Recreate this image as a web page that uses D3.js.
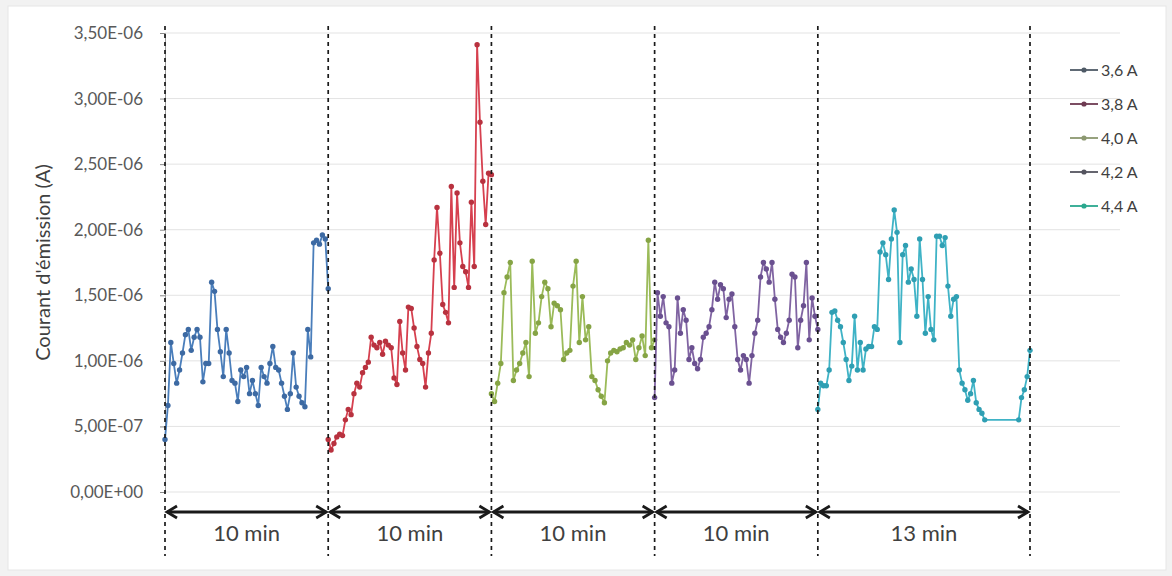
<!DOCTYPE html>
<html>
<head>
<meta charset="utf-8">
<script src="https://cdn.jsdelivr.net/npm/d3@7/dist/d3.min.js"></script>
<style>
  html, body { margin: 0; padding: 0; background: #ffffff; }
  svg { display: block; }
  text { font-family: Lato, "Open Sans", "Noto Sans", sans-serif; }
</style>
</head>
<body>
<svg id="chart" width="1172" height="576"></svg>
<script>
// ---------- data (values in units of 1E-6 A) ----------
const seriesNames = ["3,6 A", "3,8 A", "4,0 A", "4,2 A", "4,4 A"];
const segmentBounds = [0, 10, 20, 30, 40, 53];        // minutes
const segmentLabels = ["10 min", "10 min", "10 min", "10 min", "13 min"];
const yTickValues = [0, 0.5, 1.0, 1.5, 2.0, 2.5, 3.0, 3.5];
const yTickLabels = ["0,00E+00", "5,00E-07", "1,00E-06", "1,50E-06", "2,00E-06", "2,50E-06", "3,00E-06", "3,50E-06"];

const s36 = [0.40, 0.66, 1.14, 0.98, 0.83, 0.93, 1.06, 1.20, 1.24, 1.08, 1.18, 1.24, 1.18, 0.84, 0.98, 0.98,
  1.60, 1.53, 1.24, 1.07, 0.88, 1.24, 1.06, 0.85, 0.83, 0.69, 0.93, 0.88, 0.95, 0.75, 0.85, 0.75, 0.66,
  0.95, 0.88, 0.83, 0.98, 1.11, 0.95, 0.93, 0.83, 0.73, 0.63, 0.75, 1.06, 0.80, 0.73, 0.68, 0.65, 1.24,
  1.03, 1.90, 1.92, 1.89, 1.96, 1.93, 1.55];
const s38 = [0.40, 0.32, 0.37, 0.42, 0.44, 0.43, 0.55, 0.63, 0.59, 0.75, 0.83, 0.80, 0.91, 0.95, 0.99,
  1.18, 1.12, 1.10, 1.14, 1.05, 1.15, 1.12, 1.10, 0.87, 0.82, 1.30, 1.06, 0.93, 1.41, 1.40, 1.25, 1.11,
  1.01, 0.98, 0.80, 1.06, 1.21, 1.77, 2.17, 1.82, 1.43, 1.37, 1.29, 2.33, 1.56, 2.28, 1.90, 1.72, 1.68,
  1.56, 2.21, 1.72, 3.41, 2.82, 2.37, 2.04, 2.43, 2.42];
const s40 = [0.75, 0.69, 0.83, 0.98, 1.52, 1.64, 1.75, 0.85, 0.93, 0.98, 1.06, 1.14, 0.88, 1.76, 1.21,
  1.29, 1.49, 1.60, 1.55, 1.26, 1.44, 1.42, 1.39, 1.01, 1.06, 1.08, 1.57, 1.76, 1.14, 1.49, 1.16, 1.26,
  0.88, 0.85, 0.78, 0.73, 0.68, 1.00, 1.06, 1.08, 1.07, 1.09, 1.10, 1.14, 1.12, 1.16, 1.01, 1.10, 1.19,
  1.04, 1.92, 1.10, 1.16];
const s42 = [0.72, 1.52, 1.34, 1.49, 1.29, 1.26, 0.83, 0.93, 1.48, 1.21, 1.39, 1.31, 1.01, 1.10, 0.98,
  0.94, 1.01, 1.18, 1.21, 1.26, 1.39, 1.60, 1.47, 1.58, 1.55, 1.33, 1.47, 1.51, 1.26, 1.01, 0.93, 1.04,
  1.01, 0.83, 1.04, 1.21, 1.31, 1.64, 1.75, 1.70, 1.60, 1.75, 1.47, 1.24, 1.18, 1.14, 1.21, 1.31, 1.66,
  1.64, 1.10, 1.31, 1.42, 1.75, 1.16, 1.48, 1.34, 1.24];
const s44 = [0.63, 0.83, 0.81, 0.81, 0.93, 1.37, 1.38, 1.31, 1.26, 1.14, 1.01, 0.85, 0.96, 1.34, 0.93,
  1.14, 0.93, 1.09, 1.11, 1.11, 1.26, 1.24, 1.83, 1.90, 1.81, 1.62, 1.93, 2.15, 1.98, 1.14, 1.81, 1.88,
  1.60, 1.70, 1.62, 1.34, 1.93, 1.62, 1.21, 1.49, 1.24, 1.16, 1.95, 1.95, 1.88, 1.94, 1.57, 1.34, 1.47,
  1.49, 0.93, 0.83, 0.78, 0.70, 0.75, 0.85, 0.68, 0.63, 0.60, 0.55, 0.55, 0.55, 0.55, 0.55, 0.55, 0.55,
  0.55, 0.55, 0.55, 0.55, 0.55, 0.55, 0.72, 0.78, 0.88, 1.08];
const seriesValues = [s36, s38, s40, s42, s44];
const seriesColors = ["#4a7ebb", "#d6404f", "#9bbb59", "#8064a2", "#3fb3c6"];
const markerColors = ["#3d6aa3", "#b8323f", "#86a445", "#6a5090", "#2f9fb3"];
const legendColors = ["#4e5a66", "#6e3a52", "#8c9870", "#54545f", "#2aa88e"];

// ---------- layout ----------
const svg = d3.select("#chart");
const W = 1172, H = 576;

svg.append("rect").attr("x", 0).attr("y", 0).attr("width", W).attr("height", H).attr("fill", "#f2f2f2");
svg.append("rect").attr("x", 8).attr("y", 6).attr("width", W - 14).attr("height", H - 12)
  .attr("fill", "#ffffff").attr("stroke", "#e6e6e6");

const x = d3.scaleLinear().domain([0, 53]).range([165, 1030]);
const xEnd = x.invert(1120);
const y = d3.scaleLinear().domain([0, 3.5]).range([492, 33]);

// gridlines
svg.append("g").selectAll("line").data(yTickValues).join("line")
  .attr("x1", x(0)).attr("x2", x(xEnd))
  .attr("y1", d => y(d)).attr("y2", d => y(d))
  .attr("stroke", "#e3e3e3").attr("stroke-width", 1);

// y axis
const yAxis = d3.axisLeft(y).tickValues(yTickValues)
  .tickFormat((d, i) => yTickLabels[i]).tickSize(5).tickPadding(17);
const gy = svg.append("g").attr("transform", `translate(${x(0)},0)`).call(yAxis);
gy.select(".domain").attr("stroke", "#9a9a9a");
gy.selectAll(".tick line").attr("stroke", "#8a8a8a");
gy.selectAll(".tick text").attr("font-size", 17).attr("fill", "#595959")
  .style("font-family", "Lato, 'Open Sans', sans-serif");

// y title
svg.append("text")
  .attr("transform", `translate(50,${(y(0) + y(3.5)) / 2}) rotate(-90)`)
  .attr("text-anchor", "middle").attr("font-size", 20).attr("fill", "#404040")
  .text("Courant d'émission (A)");

// series
const line = d3.line().x(d => x(d.t)).y(d => y(d.v));
seriesValues.forEach((vals, k) => {
  const t0 = segmentBounds[k], t1 = segmentBounds[k + 1];
  const pts = vals.map((v, i) => ({
    t: t0 + (t1 - t0) * i / (vals.length - 1), v,
    flat: i > 0 && i < vals.length - 1 && vals[i - 1] === v && vals[i + 1] === v
  }));
  const g = svg.append("g");
  g.append("path").datum(pts).attr("d", line)
    .attr("fill", "none").attr("stroke", seriesColors[k]).attr("stroke-width", 1.8)
    .attr("stroke-linejoin", "round");
  g.selectAll("circle").data(pts.filter(d => !d.flat)).join("circle")
    .attr("cx", d => x(d.t)).attr("cy", d => y(d.v)).attr("r", 2.7)
    .attr("fill", markerColors[k]);
});

// dashed separators
svg.append("g").selectAll("line").data(segmentBounds).join("line")
  .attr("x1", d => x(d)).attr("x2", d => x(d))
  .attr("y1", 26).attr("y2", 556)
  .attr("stroke", "#1a1a1a").attr("stroke-width", 1.7).attr("stroke-dasharray", "4,4");

// double arrows and labels
const arrowY = 512;
const segs = segmentLabels.map((lab, i) => ({ a: segmentBounds[i], b: segmentBounds[i + 1], lab }));
const ag = svg.append("g");
segs.forEach(s => {
  const xa = x(s.a) + 2, xb = x(s.b) - 2;
  ag.append("line").attr("x1", xa).attr("x2", xb).attr("y1", arrowY).attr("y2", arrowY)
    .attr("stroke", "#1a1a1a").attr("stroke-width", 2.8);
  ag.append("path").attr("d", `M${xa + 10},${arrowY - 6} L${xa},${arrowY} L${xa + 10},${arrowY + 6}`)
    .attr("fill", "none").attr("stroke", "#1a1a1a").attr("stroke-width", 2.8);
  ag.append("path").attr("d", `M${xb - 10},${arrowY - 6} L${xb},${arrowY} L${xb - 10},${arrowY + 6}`)
    .attr("fill", "none").attr("stroke", "#1a1a1a").attr("stroke-width", 2.8);
  ag.append("text").attr("x", (x(s.a) + x(s.b)) / 2).attr("y", 541)
    .attr("text-anchor", "middle").attr("font-size", 22).attr("fill", "#404040").text(s.lab);
});

// legend
const lg = svg.append("g");
seriesNames.forEach((name, i) => {
  const ly = 70 + i * 34;
  lg.append("line").attr("x1", 1070).attr("x2", 1098).attr("y1", ly).attr("y2", ly)
    .attr("stroke", legendColors[i]).attr("stroke-width", 1.8);
  lg.append("circle").attr("cx", 1084).attr("cy", ly).attr("r", 2.6).attr("fill", legendColors[i]);
  lg.append("text").attr("x", 1101).attr("y", ly).attr("dy", "0.35em")
    .attr("font-size", 16).attr("fill", "#404040").text(name);
});
</script>
</body>
</html>
